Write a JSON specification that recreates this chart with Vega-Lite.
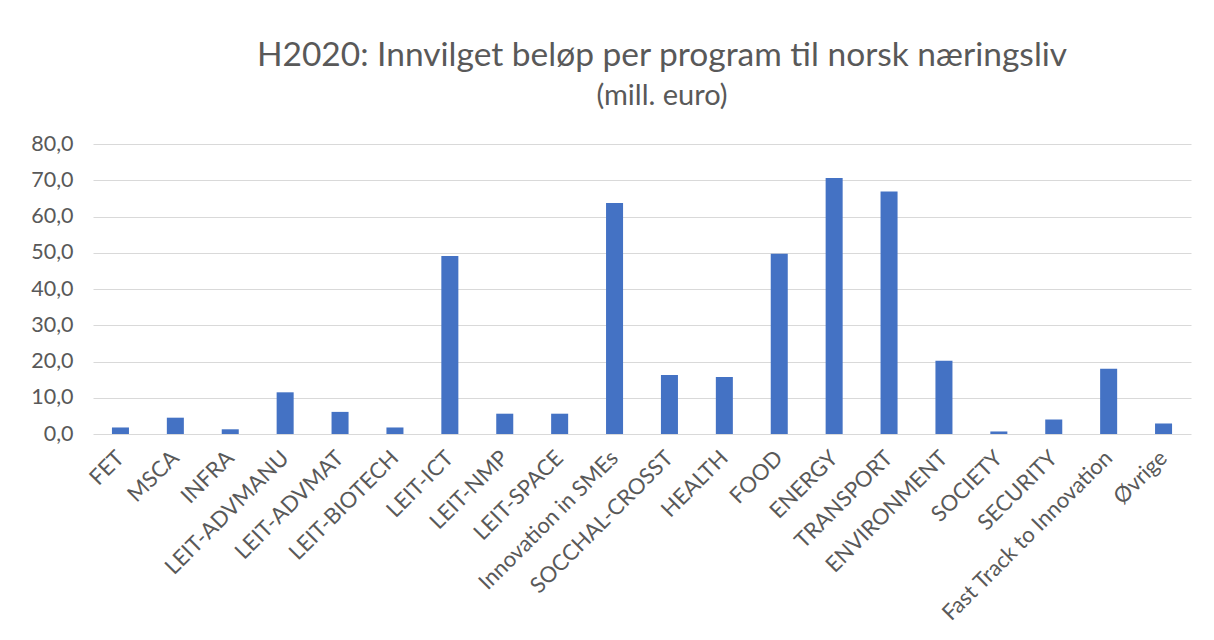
{
  "$schema": "https://vega.github.io/schema/vega-lite/v6.json",
  "width": 1098,
  "height": 290,
  "autosize": "none",
  "padding": {"left": 93, "top": 144, "right": 23, "bottom": 206},
  "background": "white",
  "title": {
    "text": "H2020: Innvilget beløp per program til norsk næringsliv",
    "subtitle": "(mill. euro)",
    "font": "Lato",
    "fontSize": 33.5,
    "fontWeight": "normal",
    "color": "#595959",
    "subtitleFont": "Lato",
    "subtitleFontSize": 29,
    "subtitleColor": "#595959",
    "subtitlePadding": 9,
    "anchor": "middle",
    "dx": 20,
    "offset": 21
  },
  "config": {"view": {"stroke": null}},
  "data": {
    "values": [
      {"program": "FET", "value": 1.8},
      {"program": "MSCA", "value": 4.5},
      {"program": "INFRA", "value": 1.3},
      {"program": "LEIT-ADVMANU", "value": 11.5},
      {"program": "LEIT-ADVMAT", "value": 6.1},
      {"program": "LEIT-BIOTECH", "value": 1.8},
      {"program": "LEIT-ICT", "value": 49.1},
      {"program": "LEIT-NMP", "value": 5.6},
      {"program": "LEIT-SPACE", "value": 5.6},
      {"program": "Innovation in SMEs", "value": 63.7},
      {"program": "SOCCHAL-CROSST", "value": 16.3},
      {"program": "HEALTH", "value": 15.7},
      {"program": "FOOD", "value": 49.7},
      {"program": "ENERGY", "value": 70.6},
      {"program": "TRANSPORT", "value": 66.9},
      {"program": "ENVIRONMENT", "value": 20.2},
      {"program": "SOCIETY", "value": 0.7},
      {"program": "SECURITY", "value": 4.0},
      {"program": "Fast Track to Innovation", "value": 18.0},
      {"program": "Øvrige", "value": 2.9}
    ]
  },
  "mark": {"type": "bar", "color": "#4472C4", "width": {"band": 0.31}},
  "encoding": {
    "x": {
      "field": "program",
      "type": "nominal",
      "sort": null,
      "title": null,
      "scale": {"paddingInner": 0, "paddingOuter": 0},
      "axis": {
        "domain": false,
        "ticks": false,
        "labelAngle": -45,
        "labelAlign": "right",
        "labelBaseline": "middle",
        "labelPadding": 20,
        "labelFont": "Lato",
        "labelFontSize": 22,
        "labelColor": "#595959",
        "labelOverlap": false,
        "labelLimit": 0
      }
    },
    "y": {
      "field": "value",
      "type": "quantitative",
      "title": null,
      "scale": {"domain": [0, 80], "nice": false},
      "axis": {
        "values": [0, 10, 20, 30, 40, 50, 60, 70, 80],
        "labelExpr": "replace(format(datum.value, '.1f'), '.', ',')",
        "domain": false,
        "ticks": false,
        "grid": true,
        "gridColor": "#d9d9d9",
        "gridWidth": 1.2,
        "labelPadding": 20,
        "labelFont": "Lato",
        "labelFontSize": 21.5,
        "labelColor": "#595959"
      }
    }
  }
}
